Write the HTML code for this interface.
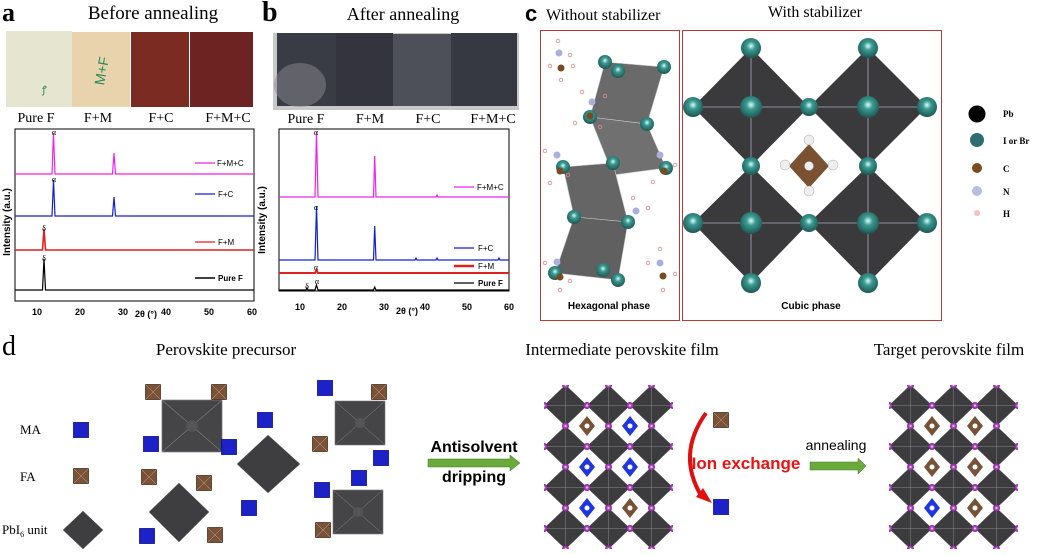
<!DOCTYPE html>
<html><head><meta charset="utf-8"><style>
html,body{margin:0;padding:0;background:#fff;}
svg{display:block;}
.serif{font-family:"Liberation Serif",serif;}
.sans{font-family:"Liberation Sans",sans-serif;}
</style></head><body>
<svg width="1040" height="556" viewBox="0 0 1040 556" xmlns="http://www.w3.org/2000/svg">
<defs>
<radialGradient id="teal" cx="50%" cy="40%" r="60%"><stop offset="0" stop-color="#d8fff8"/><stop offset="0.35" stop-color="#3a9a92"/><stop offset="1" stop-color="#1e5550"/></radialGradient>
<radialGradient id="purp" cx="50%" cy="50%" r="60%"><stop offset="0" stop-color="#fff"/><stop offset="0.4" stop-color="#b040c0"/><stop offset="1" stop-color="#6a1a80"/></radialGradient>
<pattern id="lat" patternUnits="userSpaceOnUse" width="43" height="41" x="544" y="385">
<polygon points="0,20.5 21.5,0 43,20.5 21.5,41" fill="#3c3c3e" stroke="#555" stroke-width="0.5"/>
<line x1="0" y1="20.5" x2="43" y2="20.5" stroke="#888" stroke-width="0.5"/>
<line x1="21.5" y1="0" x2="21.5" y2="41" stroke="#888" stroke-width="0.5"/>
<circle cx="0" cy="20.5" r="3.5" fill="url(#purp)"/><circle cx="43" cy="20.5" r="3.5" fill="url(#purp)"/>
<circle cx="21.5" cy="0" r="3.5" fill="url(#purp)"/><circle cx="21.5" cy="41" r="3.5" fill="url(#purp)"/>
</pattern>
<pattern id="lat2" patternUnits="userSpaceOnUse" width="43" height="41" x="889" y="385">
<polygon points="0,20.5 21.5,0 43,20.5 21.5,41" fill="#3c3c3e" stroke="#555" stroke-width="0.5"/>
<line x1="0" y1="20.5" x2="43" y2="20.5" stroke="#888" stroke-width="0.5"/>
<line x1="21.5" y1="0" x2="21.5" y2="41" stroke="#888" stroke-width="0.5"/>
<circle cx="0" cy="20.5" r="3.5" fill="url(#purp)"/><circle cx="43" cy="20.5" r="3.5" fill="url(#purp)"/>
<circle cx="21.5" cy="0" r="3.5" fill="url(#purp)"/><circle cx="21.5" cy="41" r="3.5" fill="url(#purp)"/>
</pattern>
<g id="bsq"><rect x="-7.5" y="-7.5" width="15" height="15" fill="#1c22c8" stroke="#0a0e80" stroke-width="0.8"/></g>
<g id="rsq"><rect x="-7.5" y="-7.5" width="15" height="15" fill="#7a5236" stroke="#4a3020" stroke-width="0.8"/><path d="M-7.5,-7.5L7.5,7.5M7.5,-7.5L-7.5,7.5" stroke="#caa" stroke-width="0.5"/></g>
<g id="catB"><polygon points="-8,0 0,-10 8,0 0,10" fill="#1f35e0"/><circle r="2.5" fill="#fff"/></g>
<g id="catF"><polygon points="-8,0 0,-10 8,0 0,10" fill="#765238"/><circle r="2.5" fill="#fff"/></g>
<g id="sq"><rect x="-25" y="-22" width="50" height="44" fill="#454548" stroke="#777" stroke-width="0.6"/><path d="M-25,-22L25,22M25,-22L-25,22" stroke="#888" stroke-width="0.5"/><circle r="5" fill="#555"/></g>
</defs>

<!-- Panel a -->
<text x="2" y="21" class="serif" font-size="26" font-weight="bold">a</text>
<text x="153" y="19" class="serif" font-size="19" text-anchor="middle">Before annealing</text>
<rect x="6" y="31" width="66" height="76" fill="#e6e5cf"/>
<rect x="72" y="32" width="58" height="75" fill="#e8d3ad"/>
<rect x="131" y="32" width="58" height="75" fill="#7c2b23"/>
<rect x="190" y="32" width="63" height="75" fill="#6d2322"/>
<text x="42" y="93" class="sans" font-size="10" fill="#2a8a5a">ꝭ</text>
<text x="95" y="85" class="sans" font-size="14" fill="#2a8a5a" transform="rotate(-80 100 80)">M+F</text>
<g class="serif" font-size="14" text-anchor="middle"><text x="36" y="122">Pure F</text><text x="98" y="122">F+M</text><text x="161" y="122">F+C</text><text x="228" y="122">F+M+C</text></g>
<rect x="15" y="129" width="239" height="172" fill="none" stroke="#000" stroke-width="1"/>
<g fill="none" stroke-width="1.2">
<path d="M15,174 L52,174 L53.5,133 L55,174 L112.5,174 L114,153 L115.5,174 L254,174" stroke="#ee22ee"/>
<path d="M15,216 L52,216 L53.5,180 L55,216 L112.5,216 L114,197 L115.5,216 L254,216" stroke="#1020d0"/>
<path d="M15,250 L42.5,250 L44,229 L45.5,250 L254,250" stroke="#e02020" stroke-width="1.6"/>
<path d="M15,290 L42.5,290 L44,259 L45.5,290 L254,290" stroke="#000"/>
</g>
<g class="serif" font-size="8" text-anchor="middle"><text x="54" y="135">α</text><text x="54" y="182">α</text><text x="44" y="231">δ</text><text x="44" y="261">δ</text></g>
<g stroke-width="1.2"><line x1="195" y1="163" x2="215" y2="163" stroke="#ee22ee"/><line x1="195" y1="194" x2="215" y2="194" stroke="#1020d0"/><line x1="195" y1="242" x2="215" y2="242" stroke="#e02020"/><line x1="195" y1="278" x2="215" y2="278" stroke="#000" stroke-width="1.6"/></g>
<g class="sans" font-size="8"><text x="217" y="166">F+M+C</text><text x="218" y="197">F+C</text><text x="218" y="245">F+M</text><text x="218" y="281" font-weight="bold">Pure F</text></g>
<g class="sans" font-size="9" font-weight="bold" text-anchor="middle"><text x="37" y="315">10</text><text x="80" y="315">20</text><text x="123" y="315">30</text><text x="166" y="315">40</text><text x="209" y="315">50</text><text x="252" y="315">60</text></g>
<text x="146" y="317" class="sans" font-size="9" font-weight="bold" text-anchor="middle">2θ (°)</text>
<text transform="translate(10 222) rotate(-90)" class="sans" font-size="10" font-weight="bold" text-anchor="middle">Intensity (a.u.)</text>

<!-- Panel b -->
<text x="262" y="21" class="serif" font-size="28" font-weight="bold">b</text>
<text x="403" y="20" class="serif" font-size="18" text-anchor="middle">After annealing</text>
<rect x="273" y="33" width="246" height="77" fill="#c8c8c8"/>
<rect x="277" y="33" width="59" height="73" fill="#3a3c45"/>
<ellipse cx="300" cy="85" rx="26" ry="22" fill="#8a8a90" opacity="0.5"/>
<rect x="336" y="33" width="57" height="73" fill="#33343d"/>
<rect x="393" y="34" width="58" height="72" fill="#4d5058"/>
<rect x="451" y="33" width="66" height="73" fill="#373942"/>
<g class="serif" font-size="14" text-anchor="middle"><text x="306" y="123">Pure F</text><text x="370" y="123">F+M</text><text x="428" y="123">F+C</text><text x="493" y="123">F+M+C</text></g>
<rect x="279" y="129" width="230" height="162" fill="none" stroke="#000" stroke-width="1"/>
<g fill="none" stroke-width="1.2">
<path d="M279,197 L315,197 L316.5,132 L318,197 L373.5,197 L374.7,156 L376,197 L436,197 L437,195 L438,197 L509,197" stroke="#ee22ee"/>
<path d="M279,260 L315,260 L316.5,206 L318,260 L373.5,260 L374.7,226 L376,260 L415,260 L416,258 L417,260 L436,260 L437,258 L438,260 L498,260 L499,258 L500,260 L509,260" stroke="#1020d0"/>
<path d="M279,273 L315,273 L316.5,270 L318,273 L509,273" stroke="#e02020" stroke-width="2"/>
<path d="M279,290 L306,290 L307,288 L308,290 L315,290 L316.5,285 L318,290 L373.5,290 L374.7,287 L376,290 L509,290" stroke="#000"/>
</g>
<g class="serif" font-size="8" text-anchor="middle"><text x="316" y="135">α</text><text x="316" y="210">α</text><text x="316" y="270">α</text><text x="317" y="284">α</text><text x="307" y="289">δ</text></g>
<g stroke-width="1.2"><line x1="454" y1="187" x2="474" y2="187" stroke="#ee22ee"/><line x1="454" y1="248" x2="474" y2="248" stroke="#1020d0"/><line x1="454" y1="266" x2="474" y2="266" stroke="#e02020" stroke-width="2.4"/><line x1="454" y1="283" x2="474" y2="283" stroke="#000"/></g>
<g class="sans" font-size="8"><text x="477" y="190">F+M+C</text><text x="478" y="251">F+C</text><text x="478" y="269">F+M</text><text x="478" y="286" font-weight="bold">Pure F</text></g>
<g class="sans" font-size="9" font-weight="bold" text-anchor="middle"><text x="300" y="310">10</text><text x="342" y="310">20</text><text x="384" y="310">30</text><text x="425" y="310">40</text><text x="467" y="310">50</text><text x="509" y="310">60</text></g>
<text x="407" y="314" class="sans" font-size="9" font-weight="bold" text-anchor="middle">2θ (°)</text>
<text transform="translate(265 220) rotate(-90)" class="sans" font-size="10" font-weight="bold" text-anchor="middle">Intensity (a.u.)</text>

<!-- Panel c -->
<text x="525" y="21" class="sans" font-size="22" font-weight="bold">c</text>
<text x="546" y="20" class="serif" font-size="16">Without stabilizer</text>
<text x="815" y="17" class="serif" font-size="16" text-anchor="middle">With stabilizer</text>
<rect x="540.5" y="30.5" width="139" height="290" fill="none" stroke="#b83a3a" stroke-width="1"/>
<rect x="682.5" y="30.5" width="259" height="290" fill="none" stroke="#b83a3a" stroke-width="1"/>
<g stroke="#ccc" stroke-width="0.6">
<polygon points="605,62 664,67 647,124 590,117" fill="#6a6a6a"/>
<polygon points="590,117 647,124 666,168 613,175" fill="#707070"/>
<polygon points="563,167 613,163 628,222 574,217" fill="#656565"/>
<polygon points="574,217 628,222 618,280 555,273" fill="#606060"/>
</g>
<g fill="url(#teal)"><circle cx="605" cy="62" r="7"/><circle cx="664" cy="67" r="7"/><circle cx="618" cy="71" r="7"/><circle cx="647" cy="124" r="7"/><circle cx="590" cy="117" r="7"/><circle cx="666" cy="168" r="7"/><circle cx="613" cy="163" r="7"/><circle cx="563" cy="167" r="7"/><circle cx="628" cy="222" r="7"/><circle cx="574" cy="217" r="7"/><circle cx="618" cy="280" r="7"/><circle cx="603" cy="270" r="7"/><circle cx="555" cy="273" r="7"/></g>
<g fill="#7a4a20"><circle cx="561" cy="68" r="3.5"/><circle cx="590" cy="116" r="3.5"/><circle cx="560" cy="171" r="3.5"/><circle cx="664" cy="171" r="3.5"/><circle cx="560" cy="277" r="3.5"/><circle cx="663" cy="276" r="3.5"/></g>
<g fill="#aab0dd"><circle cx="559" cy="53" r="3.5"/><circle cx="592" cy="102" r="3.5"/><circle cx="557" cy="155" r="3.5"/><circle cx="660" cy="155" r="3.5"/><circle cx="636" cy="211" r="3.5"/><circle cx="557" cy="262" r="3.5"/><circle cx="660" cy="263" r="3.5"/></g>
<g fill="none" stroke="#d88" stroke-width="0.8"><circle cx="558" cy="41" r="1.8"/><circle cx="570" cy="55" r="1.8"/><circle cx="550" cy="66" r="1.8"/><circle cx="573" cy="66" r="1.8"/><circle cx="561" cy="80" r="1.8"/><circle cx="582" cy="92" r="1.8"/><circle cx="605" cy="96" r="1.8"/><circle cx="575" cy="123" r="1.8"/><circle cx="600" cy="127" r="1.8"/><circle cx="545" cy="151" r="1.8"/><circle cx="568" cy="175" r="1.8"/><circle cx="550" cy="183" r="1.8"/><circle cx="675" cy="165" r="1.8"/><circle cx="653" cy="182" r="1.8"/><circle cx="648" cy="208" r="1.8"/><circle cx="633" cy="198" r="1.8"/><circle cx="545" cy="263" r="1.8"/><circle cx="570" cy="281" r="1.8"/><circle cx="560" cy="290" r="1.8"/><circle cx="648" cy="263" r="1.8"/><circle cx="675" cy="274" r="1.8"/><circle cx="663" cy="290" r="1.8"/><circle cx="660" cy="249" r="1.8"/></g>
<text x="609" y="309" class="sans" font-size="10" font-weight="bold" text-anchor="middle">Hexagonal phase</text>
<!-- cubic -->
<g fill="#3a3a3c">
<polygon points="693,107 751,48 809,107 751,166"/><polygon points="809,107 868,48 927,107 868,166"/>
<polygon points="693,223 751,166 809,223 751,283"/><polygon points="809,223 868,166 927,223 868,283"/>
</g>
<g stroke="#aab" stroke-width="0.8"><line x1="693" y1="107" x2="927" y2="107"/><line x1="693" y1="223" x2="927" y2="223"/><line x1="751" y1="48" x2="751" y2="283"/><line x1="868" y1="48" x2="868" y2="283"/></g>
<g fill="url(#teal)">
<circle cx="751" cy="48" r="10"/><circle cx="868" cy="48" r="10"/>
<circle cx="693" cy="107" r="10"/><circle cx="751" cy="107" r="11"/><circle cx="809" cy="107" r="9"/><circle cx="868" cy="107" r="11"/><circle cx="927" cy="107" r="10"/>
<circle cx="751" cy="166" r="9"/><circle cx="868" cy="166" r="9"/>
<circle cx="693" cy="223" r="10"/><circle cx="751" cy="223" r="11"/><circle cx="809" cy="223" r="9"/><circle cx="868" cy="223" r="11"/><circle cx="927" cy="223" r="10"/>
<circle cx="751" cy="283" r="10"/><circle cx="868" cy="283" r="10"/>
</g>
<polygon points="789,166 809,144 829,166 809,188" fill="#7a5232"/>
<g fill="#eee" stroke="#aaa" stroke-width="0.5"><circle cx="809" cy="140" r="5"/><circle cx="785" cy="165" r="5"/><circle cx="833" cy="165" r="5"/><circle cx="809" cy="191" r="5"/><circle cx="809" cy="166" r="4.5"/></g>
<text x="811" y="309" class="sans" font-size="10" font-weight="bold" text-anchor="middle">Cubic phase</text>
<circle cx="977" cy="114" r="8.5" fill="#000"/><circle cx="977" cy="140" r="7" fill="#2e6e70"/><circle cx="977" cy="168" r="5" fill="#7a4a20"/><circle cx="977" cy="191" r="5" fill="#b8bde2"/><circle cx="977" cy="213" r="3" fill="#f4c0c0"/>
<g class="serif" font-size="9" font-weight="bold"><text x="1003" y="117">Pb</text><text x="1003" y="144">I or Br</text><text x="1003" y="172">C</text><text x="1003" y="195">N</text><text x="1003" y="217">H</text></g>

<!-- Panel d -->
<text x="2" y="355" class="serif" font-size="28">d</text>
<g class="serif" font-size="17" text-anchor="middle"><text x="226" y="355">Perovskite precursor</text><text x="622" y="355">Intermediate perovskite film</text><text x="949" y="355">Target perovskite film</text></g>
<g class="serif" font-size="13"><text x="20" y="434">MA</text><text x="20" y="481">FA</text><text x="2" y="534">PbI<tspan font-size="8" dy="3">6</tspan><tspan dy="-3"> unit</tspan></text></g>
<use href="#bsq" x="81" y="430"/><use href="#rsq" x="81" y="476"/>
<g stroke="#777" stroke-width="0.5">
<polygon points="63,530 83,511 103,530 83,549" fill="#3e3e40"/>
<polygon points="237,464 268,435 300,464 268,493" fill="#3e3e40"/>
<polygon points="149,512 179,483 209,512 179,542" fill="#3e3e40"/>
</g>
<g transform="translate(192 426) scale(1.2 1.18)"><use href="#sq"/></g>
<use href="#sq" x="360" y="423"/>
<use href="#sq" x="358" y="512"/>
<use href="#rsq" x="153" y="392"/><use href="#rsq" x="219" y="392"/><use href="#rsq" x="379" y="392"/><use href="#rsq" x="320" y="444"/><use href="#rsq" x="149" y="477"/><use href="#rsq" x="204" y="483"/><use href="#rsq" x="215" y="535"/><use href="#rsq" x="323" y="530"/>
<use href="#bsq" x="325" y="388"/><use href="#bsq" x="265" y="420"/><use href="#bsq" x="151" y="444"/><use href="#bsq" x="229" y="447"/><use href="#bsq" x="381" y="458"/><use href="#bsq" x="359" y="478"/><use href="#bsq" x="322" y="490"/><use href="#bsq" x="249" y="508"/><use href="#bsq" x="147" y="536"/>
<!-- arrow 1 -->
<polygon points="428,459 510,459 510,455 520,463 510,471 510,467 428,467" fill="#6aaa3a" stroke="#3a7a20" stroke-width="0.5"/>
<g class="sans" font-size="16" font-weight="bold" text-anchor="middle"><text x="474" y="452">Antisolvent</text><text x="474" y="482">dripping</text></g>
<!-- lattices -->
<rect x="544" y="385" width="129" height="164" fill="url(#lat)"/>
<g fill="#fff"><polygon points="576,426 587,412 598,426 587,440"/><polygon points="619,426 630,412 641,426 630,440"/><polygon points="576,467 587,453 598,467 587,481"/><polygon points="619,467 630,453 641,467 630,481"/><polygon points="576,508 587,494 598,508 587,522"/><polygon points="619,508 630,494 641,508 630,522"/></g>
<use href="#catF" x="587" y="426"/><use href="#catB" x="630" y="426"/><use href="#catB" x="587" y="467"/><use href="#catB" x="630" y="467"/><use href="#catB" x="587" y="508"/><use href="#catF" x="630" y="508"/>
<rect x="889" y="385" width="129" height="164" fill="url(#lat2)"/>
<g fill="#fff"><polygon points="921,426 932,412 943,426 932,440"/><polygon points="964,426 975,412 986,426 975,440"/><polygon points="921,467 932,453 943,467 932,481"/><polygon points="964,467 975,453 986,467 975,481"/><polygon points="921,508 932,494 943,508 932,522"/><polygon points="964,508 975,494 986,508 975,522"/></g>
<use href="#catF" x="932" y="426"/><use href="#catF" x="975" y="426"/><use href="#catF" x="932" y="467"/><use href="#catF" x="975" y="467"/><use href="#catB" x="932" y="508"/><use href="#catF" x="975" y="508"/>
<!-- ion exchange -->
<path d="M706,413 Q676,455 702,497" fill="none" stroke="#e01010" stroke-width="4"/>
<polygon points="696,497 712,503 703,488" fill="#e01010"/>
<use href="#rsq" x="721" y="420"/><use href="#bsq" x="721" y="507"/>
<text x="746" y="469" class="sans" font-size="17" font-weight="bold" fill="#ee1111" text-anchor="middle">Ion exchange</text>
<polygon points="810,462 858,462 858,458 866,466 858,474 858,470 810,470" fill="#6aaa3a" stroke="#3a7a20" stroke-width="0.5"/>
<text x="836" y="450" class="sans" font-size="14" text-anchor="middle">annealing</text>
</svg>
</body></html>
